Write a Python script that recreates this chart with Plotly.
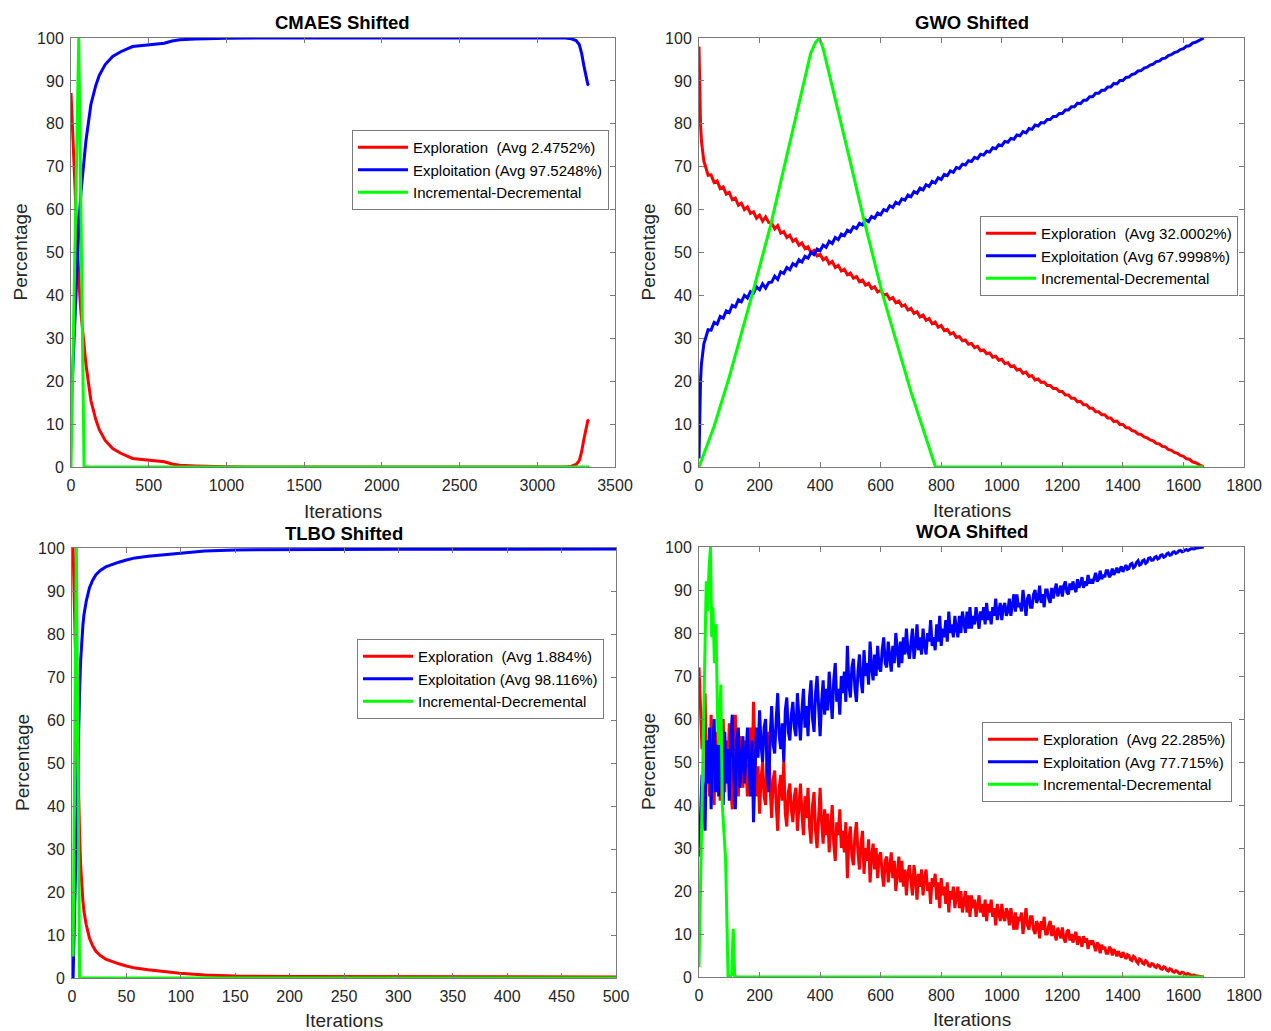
import plotly.graph_objects as go

W, H = 1271, 1031
FONT = "Liberation Sans"
AX = "#7a7a7a"

# ---------------- data ----------------
# CMAES Shifted
cmaes_iter = [0, 10, 21, 32, 43, 53, 64, 75, 96, 128, 139, 160, 182, 220, 268, 320, 396, 450, 482, 550,
              600, 650, 700, 800, 900, 1000, 1200, 2000, 3000, 3180, 3220, 3250, 3270, 3285, 3300, 3315, 3325, 3333]
cmaes_explore = [87.2, 78, 67.7, 58.4, 49, 42, 36, 31.5, 24, 15.5, 13.8, 11, 8.7, 6.2, 4.3, 3.2, 2.0, 1.8, 1.6, 1.5,
                 1.2, 0.7, 0.4, 0.25, 0.12, 0.05, 0, 0, 0, 0, 0.2, 0.6, 1.5, 3.5, 6.5, 9.5, 10.8, 11.0]
cmaes_exploit = [12.8, 22, 32.3, 41.6, 51, 58, 64, 68.5, 76, 84.5, 86.2, 89, 91.3, 93.8, 95.7, 96.8, 98.0, 98.2, 98.4, 98.5,
                 98.8, 99.3, 99.6, 99.75, 99.88, 99.95, 100, 100, 100, 100, 99.8, 99.4, 98.5, 96.5, 93.5, 90.5, 89.2, 89.0]
cmaes_incdec_iter = [0, 50, 84, 3333]
cmaes_incdec = [0, 100, 0, 0]

# GWO Shifted
gwo_iter = [0, 1, 3, 5, 8, 12, 16] + list(range(20, 1661, 10)) + [1667]
gwo_explore = [98, 94, 86, 80, 76, 73, 71.3,
               70.4, 68.0, 68.1, 66.3, 66.7, 64.9, 65.3, 63.6, 64.0, 62.3,
               62.7, 61.0, 61.5, 60.0, 60.6, 59.1, 59.5, 58.0, 58.7, 57.3,
               58.3, 57.0, 56.9, 55.5, 56.3, 54.5, 54.9, 53.5, 54.0, 52.6,
               53.1, 51.7, 52.2, 50.9, 51.3, 50.0, 50.5, 49.2, 49.6, 48.3,
               48.8, 47.4, 47.9, 46.5, 47.0, 45.7, 46.1, 44.8, 45.2, 44.0,
               44.4, 43.2, 43.6, 42.4, 42.8, 41.6, 42.0, 40.8, 41.2, 40.0,
               40.3, 39.1, 39.5, 38.3, 38.7, 37.5, 37.8, 36.6, 37.0, 35.8,
               36.2, 35.0, 35.4, 34.2, 34.6, 33.4, 33.8, 32.6, 33.0, 31.8,
               32.1, 31.0, 31.3, 30.2, 30.4, 29.4, 29.6, 28.6, 28.8, 27.8,
               28.1, 27.1, 27.3, 26.4, 26.6, 25.6, 25.8, 24.9, 25.1, 24.1,
               24.3, 23.4, 23.6, 22.6, 22.8, 21.8, 22.1, 21.1, 21.3, 20.3,
               20.5, 19.7, 19.8, 19.0, 19.0, 18.3, 18.3, 17.6, 17.6, 16.8,
               16.8, 16.0, 16.0, 15.2, 15.3, 14.5, 14.5, 13.7, 13.7, 12.9,
               12.9, 12.2, 12.2, 11.4, 11.4, 10.6, 10.7, 9.9, 9.9, 9.2,
               9.1, 8.5, 8.3, 7.7, 7.6, 7.0, 6.8, 6.3, 6.1, 5.5,
               5.4, 4.8, 4.7, 4.1, 3.9, 3.4, 3.2, 2.7, 2.5, 1.9,
               1.8, 1.2, 1.0, 0.6, 0.3, 0.0]
gwo_exploit = [2, 6, 14, 20, 24, 27, 28.7,
               29.6, 32.0, 31.9, 33.7, 33.3, 35.1, 34.7, 36.4, 36.0, 37.7,
               37.3, 39.0, 38.5, 40.0, 39.4, 40.9, 40.5, 42.0, 41.3, 42.7,
               41.7, 43.0, 43.1, 44.5, 43.7, 45.5, 45.1, 46.5, 46.0, 47.4,
               46.9, 48.3, 47.8, 49.1, 48.7, 50.0, 49.5, 50.8, 50.4, 51.7,
               51.2, 52.6, 52.1, 53.5, 53.0, 54.3, 53.9, 55.2, 54.8, 56.0,
               55.6, 56.8, 56.4, 57.6, 57.2, 58.4, 58.0, 59.2, 58.8, 60.0,
               59.7, 60.9, 60.5, 61.7, 61.3, 62.5, 62.2, 63.4, 63.0, 64.2,
               63.8, 65.0, 64.6, 65.8, 65.4, 66.6, 66.2, 67.4, 67.0, 68.2,
               67.9, 69.0, 68.7, 69.8, 69.6, 70.6, 70.4, 71.4, 71.2, 72.2,
               71.9, 72.9, 72.7, 73.6, 73.4, 74.4, 74.2, 75.1, 74.9, 75.9,
               75.7, 76.6, 76.4, 77.4, 77.2, 78.2, 77.9, 78.9, 78.7, 79.7,
               79.5, 80.3, 80.2, 81.0, 81.0, 81.7, 81.7, 82.4, 82.4, 83.2,
               83.2, 84.0, 84.0, 84.8, 84.7, 85.5, 85.5, 86.3, 86.3, 87.1,
               87.1, 87.8, 87.8, 88.6, 88.6, 89.4, 89.3, 90.1, 90.1, 90.8,
               90.9, 91.5, 91.7, 92.3, 92.4, 93.0, 93.2, 93.7, 93.9, 94.5,
               94.6, 95.2, 95.3, 95.9, 96.1, 96.6, 96.8, 97.3, 97.5, 98.1,
               98.2, 98.8, 99.0, 99.4, 99.7, 100.0]
gwo_incdec_iter = [0, 50, 100, 150, 176, 236, 300, 340, 369, 385, 398, 410, 460, 500, 545, 606, 700, 781, 1667]
gwo_incdec = [0, 9.5, 21, 33.5, 40.3, 56.2, 75.5, 87.5, 96.5, 99, 100, 97.5, 83, 71, 57.5, 40.3, 17.5, 0, 0]

# TLBO Shifted
tlbo_iter = [1, 2, 3, 4, 5, 6, 7, 8, 9, 10, 11, 13, 16, 19, 22, 26, 31, 37, 43, 50,
             58, 70, 84, 99, 122, 150, 200, 300, 400, 500]
tlbo_explore = [100, 88, 80, 69, 52, 41, 33, 26, 21, 18, 15.5, 12.5, 9.3, 7.5, 6.2, 5.2, 4.4, 3.8, 3.3, 2.8,
                2.3, 1.9, 1.55, 1.1, 0.7, 0.45, 0.35, 0.3, 0.28, 0.25]
tlbo_exploit = [0, 12, 20, 31, 48, 59, 67, 74, 79, 82, 84.5, 87.5, 90.7, 92.5, 93.8, 94.8, 95.6, 96.2, 96.7, 97.2,
                97.7, 98.1, 98.45, 98.9, 99.3, 99.55, 99.65, 99.7, 99.72, 99.75]
tlbo_incdec_iter = [1, 4, 7, 500]
tlbo_incdec = [5, 100, 0, 0]

# WOA Shifted
woa_iter = list(range(0, 1666, 5)) + [1667]
woa_explore = [72, 60, 53, 58, 66, 45, 55, 42, 61, 48,
               40, 57, 46, 58, 41, 52, 60, 43, 55, 47,
               59, 44, 39, 53, 61, 45, 42, 56, 50, 44,
               55, 47, 42, 50, 58, 45, 64, 52, 42, 49,
               38, 46, 50, 42, 40, 52, 57, 44, 37, 46,
               48, 40, 34, 44, 47, 41, 50, 38, 35, 43,
               45, 39, 36, 42, 44, 34, 40, 45, 38, 33,
               42, 37, 44, 35, 31, 40, 43, 34, 30, 38,
               44, 36, 31, 39, 33, 38, 29, 35, 40, 31,
               27, 36, 33, 39, 30, 34, 29, 36, 23, 32,
               35, 28, 26, 33, 36, 29, 25, 31, 34, 24,
               30, 27, 32, 22, 28, 31, 25, 30, 23, 28,
               29, 24, 21, 27, 28, 22, 26, 29, 23, 27,
               20, 25, 28, 22, 27, 21, 25, 19, 24, 26,
               22, 19, 26, 23, 18, 24, 21, 25, 19, 23,
               25, 20, 22, 17, 23, 21, 24, 18, 22, 16,
               23, 19, 21, 17, 22, 15, 20, 18, 21, 16,
               19, 21, 16, 20, 15, 18, 20, 15, 19, 14,
               19, 16, 18, 14, 17, 19, 15, 17, 14, 18,
               13, 17, 15, 18, 14, 16, 12, 17, 15, 13,
               17, 14, 13, 16, 15, 12, 16, 13, 11, 15,
               11, 14, 13, 15, 10, 13, 16, 12, 11, 14,
               14, 11, 10, 13, 12, 9, 13, 11, 14, 10,
               10, 12, 13, 9.5, 12, 10, 8.5, 11.5, 10, 9,
               11.5, 9, 8, 10.5, 11, 8.5, 10, 8, 9.5, 10.5,
               7.5, 9.5, 8.5, 7, 9.5, 8, 9, 6.5, 8.5, 7.5,
               8.5, 7, 6, 8, 7.5, 5.5, 7.5, 6.5, 7, 5.5,
               5.5, 7, 6.5, 5, 6.5, 5.8, 4.8, 6, 5.2, 4.5,
               5.8, 4.8, 4.2, 5.2, 5, 4, 3.8, 4.8, 4.5, 3.6,
               3.2, 4.2, 4, 3.2, 3, 3.8, 3.5, 2.6, 2.5, 3.1,
               3, 2.4, 2.2, 2.8, 2.6, 1.9, 1.8, 2.4, 2.2, 1.6,
               1.4, 1.9, 1.8, 1.2, 1.1, 1.5, 1.3, 0.9, 0.8, 1.1,
               1, 0.7, 0.6, 0.8, 0.6, 0.4, 0.4, 0.45, 0.3, 0.25,
               0.2, 0.15, 0.1, 0.05, 0]
woa_exploit = [28, 40, 47, 42, 34, 55, 45, 58, 39, 52,
               60, 43, 54, 42, 59, 48, 40, 57, 45, 53,
               41, 56, 61, 47, 39, 55, 58, 44, 50, 56,
               45, 53, 58, 50, 42, 55, 36, 48, 58, 51,
               62, 54, 50, 58, 60, 48, 43, 56, 63, 54,
               52, 60, 66, 56, 53, 59, 50, 62, 65, 57,
               55, 61, 64, 58, 56, 66, 60, 55, 62, 67,
               58, 63, 56, 65, 69, 60, 57, 66, 70, 62,
               56, 64, 69, 61, 67, 62, 71, 65, 60, 69,
               73, 64, 67, 61, 70, 66, 71, 64, 77, 68,
               65, 72, 74, 67, 64, 71, 75, 69, 66, 76,
               70, 73, 68, 78, 72, 69, 75, 70, 77, 72,
               71, 76, 79, 73, 72, 78, 74, 71, 77, 73,
               80, 75, 72, 78, 73, 79, 75, 81, 76, 74,
               78, 81, 74, 77, 82, 76, 79, 75, 81, 77,
               75, 80, 78, 83, 77, 79, 76, 82, 78, 84,
               77, 81, 79, 83, 78, 85, 80, 82, 79, 84,
               81, 79, 84, 80, 85, 82, 80, 85, 81, 86,
               81, 84, 82, 86, 83, 81, 85, 83, 86, 82,
               87, 83, 85, 82, 86, 84, 88, 83, 85, 87,
               83, 86, 87, 84, 85, 88, 84, 87, 89, 85,
               89, 86, 87, 85, 90, 87, 84, 88, 89, 86,
               86, 89, 90, 87, 88, 91, 87, 89, 86, 90,
               90, 88, 87, 90.5, 88, 90, 91.5, 88.5, 90, 91,
               88.5, 91, 92, 89.5, 89, 91.5, 90, 92, 90.5, 89.5,
               92.5, 90.5, 91.5, 93, 90.5, 92, 91, 93.5, 91.5, 92.5,
               91.5, 93, 94, 92, 92.5, 94.5, 92.5, 93.5, 93, 94.5,
               94.5, 93, 93.5, 95, 93.5, 94.2, 95.2, 94, 94.8, 95.5,
               94.2, 95.2, 95.8, 94.8, 95, 96, 96.2, 95.2, 95.5, 96.4,
               96.8, 95.8, 96, 96.8, 97, 96.2, 96.5, 97.4, 97.5, 96.9,
               97, 97.6, 97.8, 97.2, 97.4, 98.1, 98.2, 97.6, 97.8, 98.4,
               98.6, 98.1, 98.2, 98.8, 98.9, 98.5, 98.7, 99.1, 99.2, 98.9,
               99, 99.3, 99.4, 99.2, 99.4, 99.6, 99.6, 99.55, 99.7, 99.75,
               99.8, 99.85, 99.9, 99.95, 100]
woa_incdec_iter = [0, 12, 24, 28, 33, 38, 42, 46, 51, 56, 62, 66, 72, 77, 84, 88, 96, 100, 108, 113, 118, 1667]
woa_incdec = [2.3, 45, 92, 85, 95, 100, 79, 86, 73, 82, 58, 54, 68, 40, 33, 27, 0, 0, 0.5, 11.2, 0, 0]

titles = ["CMAES Shifted", "GWO Shifted", "TLBO Shifted", "WOA Shifted"]
legend_texts = [
    ["Exploration  (Avg 2.4752%)", "Exploitation (Avg 97.5248%)", "Incremental-Decremental"],
    ["Exploration  (Avg 32.0002%)", "Exploitation (Avg 67.9998%)", "Incremental-Decremental"],
    ["Exploration  (Avg 1.884%)", "Exploitation (Avg 98.116%)", "Incremental-Decremental"],
    ["Exploration  (Avg 22.285%)", "Exploitation (Avg 77.715%)", "Incremental-Decremental"],
]
x_ranges = [[0, 3500], [0, 1800], [0, 500], [0, 1800]]
x_dticks = [500, 200, 50, 200]

series = [
    (cmaes_iter, cmaes_explore, cmaes_exploit, cmaes_incdec_iter, cmaes_incdec),
    (gwo_iter, gwo_explore, gwo_exploit, gwo_incdec_iter, gwo_incdec),
    (tlbo_iter, tlbo_explore, tlbo_exploit, tlbo_incdec_iter, tlbo_incdec),
    (woa_iter, woa_explore, woa_exploit, woa_incdec_iter, woa_incdec),
]

# ---------------- layout geometry (pixels) ----------------
boxes = [(71, 615, 38, 467), (699, 1244, 38, 467), (72, 616, 548, 978), (699, 1244, 547, 977)]
legend_pos = [(352, 130), (980, 216), (357, 639), (982, 722)]
title_y = [22, 22, 533, 531]
xlabel_y = [511, 510, 1020, 1019]
ylabel_x = [20, 648, 22, 648]

fig = go.Figure()
colors = ["#ff0000", "#0000ff", "#00ff00"]

for k in range(4):
    it, ex, ep, gi, gv = series[k]
    sfx = "" if k == 0 else str(k + 1)
    leg = "legend" + sfx
    xs = [it, it, gi]
    ys = [ex, ep, gv]
    for j in range(3):
        fig.add_trace(go.Scatter(
            x=xs[j], y=ys[j], mode="lines", name=legend_texts[k][j],
            line=dict(color=colors[j], width=3),
            xaxis="x" + sfx, yaxis="y" + sfx, legend=leg, showlegend=True,
            hoverinfo="skip"))

axis_common = dict(showline=True, linecolor=AX, linewidth=1, mirror="ticks",
                   ticks="inside", ticklen=5, tickcolor=AX, tickwidth=1,
                   showgrid=False, zeroline=False, automargin=False,
                   tickfont=dict(family=FONT, size=16, color="#262626"))

layout = dict(template="none", width=W, height=H,
              margin=dict(l=0, r=0, t=0, b=0, pad=0, autoexpand=False),
              paper_bgcolor="white", plot_bgcolor="white", showlegend=True,
              font=dict(family=FONT, color="#262626"))
annotations = []
for k in range(4):
    l, r, t, b = boxes[k]
    sfx = "" if k == 0 else str(k + 1)
    layout["xaxis" + sfx] = dict(axis_common, domain=[l / W, r / W], range=x_ranges[k],
                                 dtick=x_dticks[k], tick0=0, anchor="y" + sfx,
                                 ticklabelstandoff=4)
    layout["yaxis" + sfx] = dict(axis_common, domain=[1 - b / H, 1 - t / H], range=[0, 100],
                                 dtick=10, tick0=0, anchor="x" + sfx,
                                 ticklabelstandoff=3)
    lx, ly = legend_pos[k]
    layout["legend" + sfx] = dict(x=lx / W, y=1 - ly / H, xanchor="left", yanchor="top",
                                  xref="paper", yref="paper",
                                  bgcolor="white", bordercolor=AX, borderwidth=1,
                                  font=dict(family=FONT, size=15, color="black"),
                                  itemwidth=50, tracegroupgap=0)
    cx = (l + r) / 2
    annotations.append(dict(text="<b>" + titles[k] + "</b>", x=cx / W, y=1 - title_y[k] / H,
                            xref="paper", yref="paper", showarrow=False,
                            xanchor="center", yanchor="middle",
                            font=dict(family=FONT, size=18.5, color="black")))
    annotations.append(dict(text="Iterations", x=cx / W, y=1 - xlabel_y[k] / H,
                            xref="paper", yref="paper", showarrow=False,
                            xanchor="center", yanchor="middle",
                            font=dict(family=FONT, size=19, color="#262626")))
    annotations.append(dict(text="Percentage", x=ylabel_x[k] / W, y=1 - ((t + b) / 2) / H,
                            xref="paper", yref="paper", showarrow=False, textangle=-90,
                            xanchor="center", yanchor="middle",
                            font=dict(family=FONT, size=19, color="#262626")))
layout["annotations"] = annotations
fig.update_layout(**layout)

fig.write_html("out.html", config={"displayModeBar": False},
               post_script="document.body.style.margin='0';")
